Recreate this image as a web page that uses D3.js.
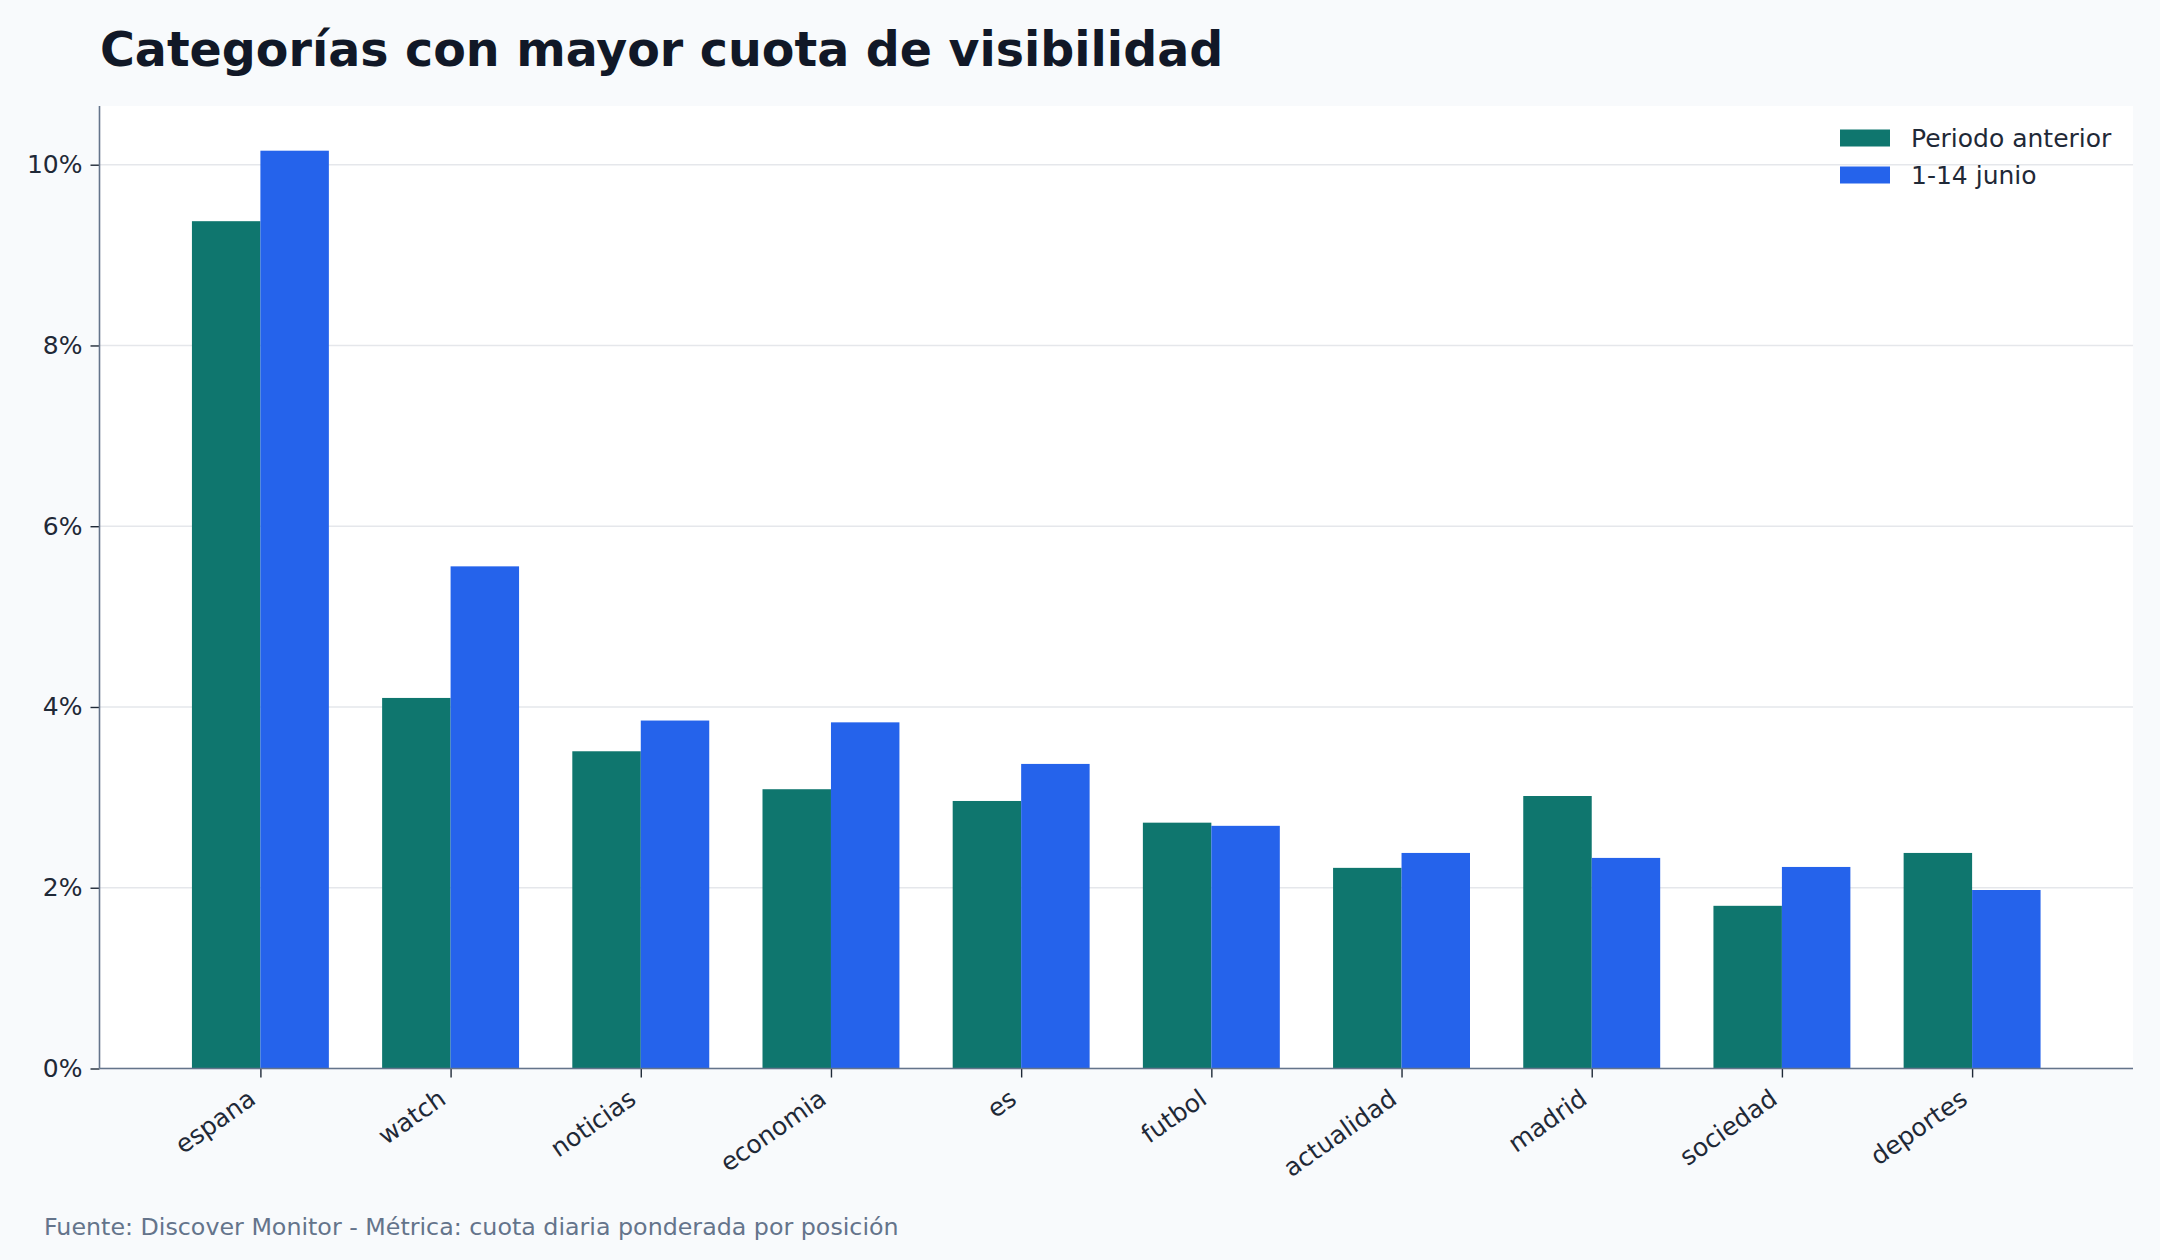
<!DOCTYPE html>
<html>
<head>
<meta charset="utf-8">
<script src="https://cdn.jsdelivr.net/npm/d3@7"></script>
<style>
  html, body { margin: 0; padding: 0; background: #f8fafc; }
  svg { display: block; font-family: "DejaVu Sans", sans-serif; }
</style>
</head>
<body>
<svg id="chart" width="2160" height="1260"></svg>
<script>
const categories = ["espana", "watch", "noticias", "economia", "es", "futbol", "actualidad", "madrid", "sociedad", "deportes"];
const prevValues = [9.375, 4.10, 3.51, 3.09, 2.96, 2.72, 2.22, 3.015, 1.80, 2.385];
const currValues = [10.155, 5.556, 3.85, 3.83, 3.37, 2.685, 2.385, 2.33, 2.23, 1.975];
const seriesNames = ["Periodo anterior", "1-14 junio"];
const yTicks = [0, 2, 4, 6, 8, 10];
const titleText = "Categorías con mayor cuota de visibilidad";
const footerText = "Fuente: Discover Monitor - Métrica: cuota diaria ponderada por posición";

const colors = ["#0f766e", "#2563eb"];
const W = 2160, H = 1260;
const plot = { left: 99.5, right: 2133, top: 106, bottom: 1068.5 };

const svg = d3.select("#chart");
svg.append("rect").attr("width", W).attr("height", H).attr("fill", "#f8fafc");

// plot background
svg.append("rect")
  .attr("x", plot.left).attr("y", plot.top)
  .attr("width", plot.right - plot.left).attr("height", plot.bottom - plot.top)
  .attr("fill", "#ffffff");

const barW = 0.36;
const n = categories.length;
const x = d3.scaleLinear()
  .domain([-barW - 0.05 * (n - 1 + 2 * barW), (n - 1) + barW + 0.05 * (n - 1 + 2 * barW)])
  .range([plot.left, plot.right]);
const y = d3.scaleLinear().domain([0, 10.155 * 1.0487]).range([plot.bottom, plot.top]);

// grid
svg.append("g").selectAll("line").data(yTicks).join("line")
  .attr("x1", plot.left).attr("x2", plot.right)
  .attr("y1", d => y(d)).attr("y2", d => y(d))
  .attr("stroke", "#e5e7eb").attr("stroke-width", 1.6);

// bars
const series = [prevValues, currValues];
series.forEach((vals, s) => {
  svg.append("g").selectAll("rect").data(vals).join("rect")
    .attr("x", (d, i) => s === 0 ? x(i - barW) : x(i))
    .attr("width", (d, i) => x(i + barW) - x(i))
    .attr("y", d => y(d))
    .attr("height", d => y(0) - y(d))
    .attr("fill", colors[s]);
});

// y axis
const yAxis = d3.axisLeft(y).tickValues(yTicks).tickFormat(d => d + "%").tickSize(9).tickPadding(8);
const gy = svg.append("g").attr("transform", `translate(${plot.left},0)`).call(yAxis);
gy.select(".domain").remove();
gy.selectAll(".tick line").attr("stroke", "#1f2937").attr("stroke-width", 1.4);
gy.selectAll(".tick text").attr("font-size", 25).attr("fill", "#1f2937")
  .attr("font-family", "DejaVu Sans");

// x axis
const xAxis = d3.axisBottom(x).tickValues(d3.range(n)).tickFormat(i => categories[i]).tickSize(9).tickPadding(8);
const gx = svg.append("g").attr("transform", `translate(0,${plot.bottom})`).call(xAxis);
gx.select(".domain").remove();
gx.selectAll(".tick line").attr("stroke", "#1f2937").attr("stroke-width", 1.4);
gx.selectAll(".tick text")
  .attr("font-size", 25).attr("fill", "#1f2937").attr("font-family", "DejaVu Sans")
  .attr("text-anchor", "end")
  .attr("dy", null).attr("y", null)
  .attr("transform", "translate(-3.5,34) rotate(-35)");

// spines
svg.append("line").attr("x1", plot.left).attr("x2", plot.left)
  .attr("y1", plot.top).attr("y2", plot.bottom)
  .attr("stroke", "#64748b").attr("stroke-width", 1.6);
svg.append("line").attr("x1", plot.left).attr("x2", plot.right)
  .attr("y1", plot.bottom).attr("y2", plot.bottom)
  .attr("stroke", "#64748b").attr("stroke-width", 1.6);

// legend
const lg = svg.append("g");
seriesNames.forEach((name, i) => {
  const cy = 138 + i * 37;
  lg.append("rect").attr("x", 1840).attr("y", cy - 8.5).attr("width", 50).attr("height", 17)
    .attr("fill", colors[i]);
  lg.append("text").attr("x", 1911).attr("y", cy).attr("dy", "0.35em")
    .attr("font-size", 25).attr("fill", "#1f2937").text(name);
});

// title
svg.append("text").attr("x", 100).attr("y", 66)
  .attr("font-size", 47.5).attr("font-weight", "bold").attr("fill", "#111827")
  .text(titleText);

// footer
svg.append("text").attr("x", 44).attr("y", 1226.5).attr("dy", "0.35em")
  .attr("font-size", 23.75).attr("fill", "#64748b")
  .text(footerText);
</script>
</body>
</html>
